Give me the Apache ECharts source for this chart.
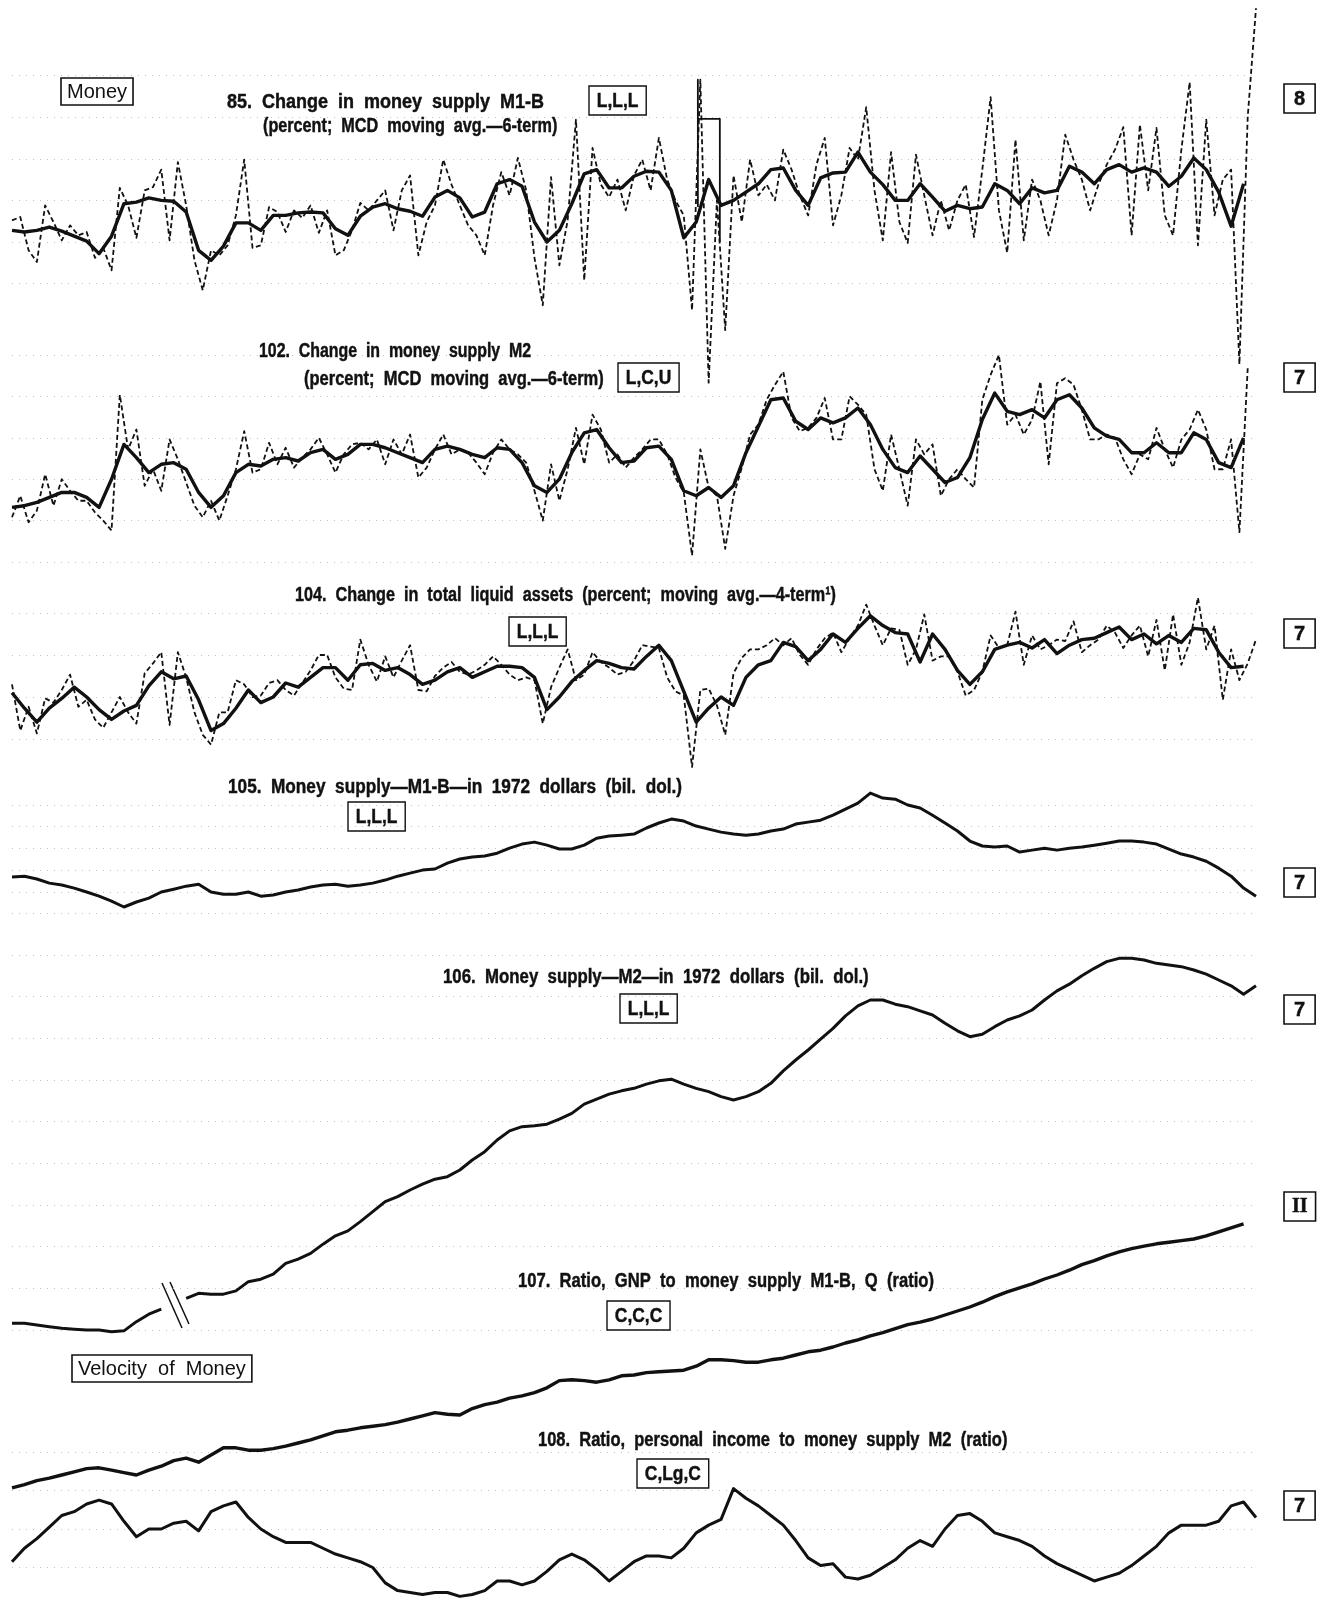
<!DOCTYPE html>
<html>
<head>
<meta charset="utf-8">
<script src="https://cdn.jsdelivr.net/npm/echarts@6/dist/echarts.min.js"></script>
<style>
  html, body { margin: 0; padding: 0; background: #fff; }
  #chart { width: 1338px; height: 1606px; }
</style>
</head>
<body>
<div id="chart"></div>
<script>
// ---- Money and velocity of money, monthly series (months counted from the start of the span) ----
const SPAN_MONTHS = 300;
const MA_STEP = 3;      // smoothed / level series sampled every 3 months
const RAW_STEP = 2;     // monthly-change series sampled every 2 months

// 85. Change in money supply M1-B (percent)
const m1bChangeMCD = [
  0.14, 0.12, 0.14, 0.18, 0.13, 0.07, 0.01, -0.14, 0.07, 0.46,
  0.48, 0.53, 0.50, 0.49, 0.36, -0.10, -0.22, -0.05, 0.23, 0.23,
  0.14, 0.32, 0.32, 0.35, 0.36, 0.35, 0.16, 0.08, 0.31, 0.42,
  0.46, 0.40, 0.37, 0.31, 0.54, 0.62, 0.53, 0.30, 0.36, 0.70,
  0.75, 0.67, 0.24, 0.00, 0.14, 0.46, 0.82, 0.87, 0.65, 0.65,
  0.79, 0.85, 0.84, 0.62, 0.05, 0.24, 0.75, 0.44, 0.50, 0.60,
  0.70, 0.87, 0.89, 0.62, 0.44, 0.77, 0.83, 0.84, 1.08, 0.84,
  0.69, 0.50, 0.50, 0.70, 0.54, 0.37, 0.44, 0.40, 0.42, 0.70,
  0.62, 0.46, 0.65, 0.59, 0.62, 0.91, 0.84, 0.70, 0.87, 0.93,
  0.84, 0.89, 0.84, 0.67, 0.79, 1.01, 0.87, 0.60, 0.19, 0.70
];
const m1bChangeMonthly = [
  0.26, 0.30, -0.10, -0.24, 0.44, 0.24, 0.02, 0.20, 0.08, 0.12,
  -0.19, -0.07, -0.34, 0.65, 0.44, 0.05, 0.62, 0.66, 0.87, 0.02,
  0.96, 0.44, -0.22, -0.58, -0.10, -0.16, -0.04, 0.32, 0.99, -0.07,
  -0.04, 0.42, 0.36, 0.12, 0.38, 0.29, 0.44, 0.11, 0.38, -0.16,
  -0.10, 0.14, 0.47, 0.38, 0.50, 0.62, 0.14, 0.62, 0.80, -0.16,
  0.24, 0.44, 0.99, 0.69, 0.44, 0.20, 0.08, -0.16, 0.44, 0.84,
  0.56, 1.01, 0.62, -0.19, -0.76, 0.78, -0.28, 0.26, 1.47, -0.46,
  1.13, 0.69, 0.54, 0.75, 0.38, 0.80, 0.99, 0.62, 1.25, 0.75,
  0.50, 0.32, -0.82, 1.95, -1.69, 0.50, -1.06, 0.80, 0.24, 0.99,
  0.56, 0.69, 0.50, 1.11, 0.87, 0.56, 0.32, 0.93, 1.25, 0.20,
  0.56, 1.13, 0.99, 1.62, 0.62, 0.02, 1.08, 0.24, -0.01, 1.05,
  0.56, 0.08, 0.50, 0.14, 0.50, 0.69, 0.06, 0.87, 1.74, 0.38,
  -0.13, 1.23, 0.02, 0.75, 0.50, 0.08, 0.50, 1.29, 0.99, 0.75,
  0.38, 0.69, 0.93, 1.11, 1.38, 0.08, 1.41, 0.62, 1.37, 0.32,
  0.08, 1.11, 1.92, -0.04, 1.47, 0.32, 0.75, 0.87, -1.47, 1.50,
  2.81
];
// series-break bracket on the M1-B curve
const m1bBreakMonths = [165.4, 165.4, 165.4, 170.7, 170.7];
const m1bBreakValues = [0.42, 1.95, 1.48, 1.48, 0.00];

// 102. Change in money supply M2 (percent)
const m2ChangeMCD = [
  0.33, 0.34, 0.36, 0.39, 0.42, 0.42, 0.39, 0.33, 0.50, 0.71,
  0.63, 0.54, 0.59, 0.60, 0.56, 0.42, 0.33, 0.40, 0.54, 0.59,
  0.58, 0.62, 0.63, 0.61, 0.66, 0.68, 0.62, 0.65, 0.71, 0.71,
  0.69, 0.66, 0.63, 0.60, 0.68, 0.70, 0.68, 0.65, 0.63, 0.69,
  0.68, 0.60, 0.46, 0.42, 0.50, 0.66, 0.78, 0.80, 0.69, 0.60,
  0.61, 0.69, 0.70, 0.62, 0.43, 0.40, 0.45, 0.39, 0.46, 0.66,
  0.82, 0.98, 0.99, 0.85, 0.80, 0.87, 0.84, 0.87, 0.93, 0.83,
  0.68, 0.57, 0.54, 0.64, 0.56, 0.48, 0.51, 0.63, 0.86, 1.02,
  0.91, 0.89, 0.92, 0.87, 0.98, 1.01, 0.93, 0.81, 0.76, 0.74,
  0.66, 0.66, 0.72, 0.66, 0.66, 0.78, 0.74, 0.60, 0.57, 0.75
];
const m2ChangeMonthly = [
  0.27, 0.40, 0.24, 0.31, 0.53, 0.34, 0.50, 0.43, 0.37, 0.37,
  0.30, 0.25, 0.19, 1.01, 0.68, 0.80, 0.46, 0.56, 0.43, 0.74,
  0.62, 0.48, 0.34, 0.27, 0.37, 0.25, 0.40, 0.56, 0.79, 0.54,
  0.56, 0.72, 0.59, 0.69, 0.57, 0.63, 0.68, 0.75, 0.65, 0.54,
  0.65, 0.71, 0.72, 0.68, 0.74, 0.59, 0.74, 0.65, 0.77, 0.51,
  0.57, 0.68, 0.77, 0.65, 0.68, 0.66, 0.60, 0.53, 0.66, 0.74,
  0.68, 0.65, 0.60, 0.43, 0.25, 0.59, 0.37, 0.56, 0.81, 0.59,
  0.89, 0.80, 0.60, 0.65, 0.57, 0.63, 0.68, 0.74, 0.74, 0.65,
  0.51, 0.42, 0.04, 0.68, 0.45, 0.40, 0.08, 0.40, 0.57, 0.77,
  0.83, 0.98, 1.07, 1.15, 0.87, 0.79, 0.81, 0.87, 0.99, 0.74,
  0.74, 1.00, 0.95, 0.89, 0.56, 0.43, 0.77, 0.56, 0.34, 0.74,
  0.65, 0.71, 0.40, 0.50, 0.56, 0.50, 0.45, 0.98, 1.13, 1.25,
  0.83, 0.89, 0.77, 0.86, 1.09, 0.59, 1.08, 1.11, 1.07, 0.92,
  0.74, 0.74, 0.77, 0.75, 0.62, 0.53, 0.65, 0.62, 0.81, 0.68,
  0.57, 0.74, 0.80, 0.92, 0.80, 0.56, 0.56, 0.74, 0.18, 1.17
];

// 104. Change in total liquid assets (percent)
const liquidChangeAvg = [
  0.63, 0.52, 0.42, 0.52, 0.59, 0.67, 0.60, 0.51, 0.44, 0.50,
  0.54, 0.68, 0.78, 0.73, 0.75, 0.58, 0.36, 0.41, 0.52, 0.65,
  0.56, 0.60, 0.70, 0.67, 0.74, 0.81, 0.81, 0.72, 0.83, 0.84,
  0.79, 0.81, 0.76, 0.69, 0.72, 0.78, 0.81, 0.74, 0.78, 0.82,
  0.82, 0.81, 0.74, 0.51, 0.60, 0.71, 0.79, 0.86, 0.84, 0.81,
  0.80, 0.89, 0.97, 0.86, 0.64, 0.42, 0.52, 0.60, 0.54, 0.74,
  0.83, 0.86, 0.99, 0.96, 0.86, 0.94, 1.05, 0.99, 1.09, 1.18,
  1.11, 1.06, 1.05, 0.85, 1.05, 0.94, 0.79, 0.69, 0.78, 0.94,
  0.97, 0.99, 0.95, 1.01, 0.91, 0.97, 1.01, 1.02, 1.06, 1.10,
  1.01, 1.05, 0.98, 1.04, 0.99, 1.09, 1.08, 0.92, 0.81, 0.82
];
const liquidChangeMonthly = [
  0.69, 0.36, 0.53, 0.34, 0.59, 0.56, 0.65, 0.76, 0.53, 0.58,
  0.44, 0.38, 0.49, 0.60, 0.49, 0.41, 0.77, 0.84, 0.92, 0.40,
  0.92, 0.74, 0.49, 0.33, 0.26, 0.49, 0.49, 0.72, 0.69, 0.60,
  0.61, 0.70, 0.72, 0.65, 0.61, 0.70, 0.79, 0.90, 0.90, 0.74,
  0.66, 0.65, 1.01, 0.83, 0.71, 0.89, 0.74, 0.86, 0.97, 0.65,
  0.64, 0.75, 0.81, 0.85, 0.78, 0.76, 0.79, 0.83, 0.89, 0.83,
  0.76, 0.72, 0.74, 0.72, 0.41, 0.67, 0.81, 0.94, 0.72, 0.76,
  0.92, 0.85, 0.81, 0.76, 0.78, 0.86, 0.97, 0.96, 0.95, 0.74,
  0.64, 0.61, 0.10, 0.65, 0.66, 0.54, 0.33, 0.77, 0.88, 0.94,
  0.94, 0.97, 1.02, 0.97, 1.02, 0.90, 0.83, 0.94, 1.02, 1.06,
  0.92, 1.02, 1.11, 1.26, 1.11, 0.97, 1.09, 1.08, 0.83, 0.94,
  1.19, 0.86, 0.89, 0.89, 0.78, 0.61, 0.65, 0.78, 1.04, 0.95,
  0.97, 1.21, 0.83, 1.04, 0.94, 0.97, 1.01, 1.00, 1.14, 0.92,
  0.97, 1.01, 1.11, 1.06, 0.95, 1.04, 1.11, 0.89, 1.15, 0.79,
  1.19, 0.83, 0.99, 1.31, 0.94, 1.11, 0.58, 0.94, 0.72, 0.84,
  1.01
];

// 105. Money supply M1-B in 1972 dollars (bil. dol.)
const m1bReal = [
  216.8, 217.2, 215.9, 214.0, 213.1, 211.7, 209.9, 208.0, 205.7, 203.0,
  205.3, 207.1, 209.9, 211.2, 212.6, 213.5, 209.9, 208.9, 208.9, 209.9,
  208.0, 208.5, 209.9, 210.8, 212.2, 213.1, 213.5, 212.6, 213.1, 214.0,
  215.4, 217.2, 218.6, 220.0, 220.5, 223.2, 225.1, 226.0, 226.5, 227.8,
  230.1, 232.0, 232.9, 231.5, 229.7, 229.7, 231.5, 234.7, 235.7, 236.1,
  236.6, 239.4, 241.7, 243.5, 242.6, 240.3, 238.9, 237.5, 236.6, 236.1,
  236.6, 238.0, 238.9, 241.2, 242.1, 243.0, 245.3, 248.1, 250.9, 255.5,
  253.2, 252.7, 250.0, 248.6, 245.3, 241.7, 238.0, 233.4, 231.1, 230.6,
  231.1, 228.3, 229.2, 230.1, 229.2, 230.1, 230.6, 231.5, 232.4, 233.4,
  233.4, 232.9, 232.0, 229.7, 227.4, 226.0, 224.1, 220.9, 217.2, 211.7,
  208.0
];

// 106. Money supply M2 in 1972 dollars (bil. dol.); null marks the scale break
const m2Real = [
  308, 308, 306, 304, 302, 301, 300, 300, 298, 299,
  310, 319, 325, null, 338, 344, 343, 343, 347, 358,
  361, 367, 380, 385, 392, 403, 413, 419, 430, 442,
  454, 460, 468, 475, 481, 484, 492, 504, 514, 528,
  539, 544, 545, 547, 553, 560, 571, 577, 583, 587,
  590, 595, 599, 601, 595, 590, 586, 580, 576, 580,
  586, 596, 611, 624, 636, 649, 662, 677, 689, 696,
  696, 691, 688, 683, 678, 668, 659, 652, 655, 664,
  672, 677, 684, 696, 707, 715, 725, 734, 742, 746,
  746, 744, 740, 738, 736, 732, 727, 720, 713, 703,
  713
];

// 107. Ratio, GNP to money supply M1-B
const gnpToM1b = [
  2.99, 3.03, 3.08, 3.11, 3.15, 3.19, 3.23, 3.24, 3.21, 3.18,
  3.15, 3.21, 3.26, 3.33, 3.36, 3.31, 3.40, 3.49, 3.49, 3.46,
  3.46, 3.48, 3.51, 3.55, 3.59, 3.64, 3.69, 3.71, 3.74, 3.76,
  3.78, 3.81, 3.85, 3.89, 3.93, 3.91, 3.90, 3.98, 4.03, 4.06,
  4.11, 4.14, 4.18, 4.24, 4.33, 4.34, 4.33, 4.31, 4.34, 4.39,
  4.40, 4.43, 4.44, 4.45, 4.46, 4.51, 4.59, 4.59, 4.58, 4.56,
  4.56, 4.59, 4.61, 4.65, 4.69, 4.71, 4.75, 4.80, 4.84, 4.89,
  4.93, 4.98, 5.03, 5.06, 5.10, 5.15, 5.20, 5.25, 5.31, 5.38,
  5.44, 5.49, 5.54, 5.60, 5.65, 5.71, 5.78, 5.83, 5.89, 5.94,
  5.98, 6.01, 6.04, 6.06, 6.08, 6.10, 6.14, 6.19, 6.24, 6.29
];

// 108. Ratio, personal income to money supply M2
const incomeToM2 = [
  1.383, 1.390, 1.395, 1.401, 1.407, 1.409, 1.413, 1.415, 1.413, 1.404,
  1.396, 1.400, 1.400, 1.403, 1.404, 1.399, 1.409, 1.412, 1.414, 1.406,
  1.400, 1.396, 1.393, 1.393, 1.393, 1.390, 1.387, 1.385, 1.383, 1.380,
  1.372, 1.368, 1.367, 1.366, 1.367, 1.367, 1.365, 1.366, 1.368, 1.373,
  1.373, 1.371, 1.373, 1.378, 1.384, 1.387, 1.384, 1.379, 1.373, 1.378,
  1.383, 1.386, 1.386, 1.385, 1.390, 1.398, 1.402, 1.405, 1.421, 1.416,
  1.412, 1.407, 1.402, 1.394, 1.385, 1.381, 1.382, 1.375, 1.374, 1.376,
  1.380, 1.384, 1.390, 1.394, 1.391, 1.400, 1.407, 1.408, 1.404, 1.398,
  1.396, 1.394, 1.391, 1.386, 1.382, 1.379, 1.376, 1.373, 1.375, 1.377,
  1.381, 1.386, 1.391, 1.398, 1.402, 1.402, 1.402, 1.404, 1.412, 1.414,
  1.406
];

// ---- helpers ----
function seq(values, step) {
  return values.map((v, i) => [i * step, v == null ? '-' : v]);
}
function zip(xs, ys) {
  return xs.map((x, i) => [x, ys[i]]);
}

const PLOT_LEFT = 12;
const PLOT_RIGHT = 82;

// one grid per panel
const panels = [
  { top: 75.6, height: 208, min: -0.5, max: 2.0, interval: 0.5, grid: true },   // 85
  { top: 355, height: 207, min: 0, max: 1.25, interval: 0.25, grid: true },     // 102
  { top: 613, height: 126, min: 0.3, max: 1.2, interval: 0.3, grid: true },     // 104
  { top: 805, height: 108.5, min: 200, max: 250, interval: 10, grid: true },    // 105
  { top: 955, height: 375, min: 300, max: 750, interval: 50, grid: true },      // 106
  { top: 1207, height: 280, min: 3, max: 6.5, interval: 0.5, grid: false },     // 107
  { top: 1452, height: 160, min: 1.36, max: 1.44, interval: 0.02, grid: true }  // 108
];

const gridLine = { color: '#c2c2c2', width: 1, type: [1, 6] };

const grids = panels.map(p => ({ left: PLOT_LEFT, right: PLOT_RIGHT, top: p.top, height: p.height, containLabel: false }));
const xAxes = panels.map((p, i) => ({
  type: 'value', gridIndex: i, min: 0, max: SPAN_MONTHS, show: false
}));
const yAxes = panels.map((p, i) => ({
  type: 'value', gridIndex: i, min: p.min, max: p.max, interval: p.interval,
  axisLine: { show: false }, axisTick: { show: false }, axisLabel: { show: false },
  splitLine: { show: p.grid, lineStyle: gridLine }
}));

function line(idx, data, width, dashed) {
  return {
    type: 'line', xAxisIndex: idx, yAxisIndex: idx, data: data,
    symbol: 'none', showSymbol: false, clip: false, silent: true,
    connectNulls: false, smooth: false,
    lineStyle: { color: '#111', width: width, type: dashed ? [5, 3] : 'solid', join: 'round', cap: 'butt' },
    z: dashed ? 2 : 3
  };
}

const series = [
  line(0, seq(m1bChangeMonthly, RAW_STEP), 1.8, true),
  line(0, seq(m1bChangeMCD, MA_STEP), 3.4, false),
  line(0, zip(m1bBreakMonths, m1bBreakValues), 1.8, false),
  line(1, seq(m2ChangeMonthly, RAW_STEP), 1.8, true),
  line(1, seq(m2ChangeMCD, MA_STEP), 3.4, false),
  line(2, seq(liquidChangeMonthly, RAW_STEP), 1.8, true),
  line(2, seq(liquidChangeAvg, MA_STEP), 3.4, false),
  line(3, seq(m1bReal, MA_STEP), 3.0, false),
  line(4, seq(m2Real, MA_STEP), 3.0, false),
  line(5, seq(gnpToM1b, MA_STEP), 3.4, false),
  line(6, seq(incomeToM2, MA_STEP), 3.0, false)
];

// ---- text: condensed heavy captions, boxed keys ----
const SANS = '"Liberation Sans", Arial, "DejaVu Sans", sans-serif';
const SERIF = '"Liberation Serif", "DejaVu Serif", serif';

function label(text, x, y, opts) {
  opts = opts || {};
  const boxed = !!opts.boxed;
  const size = opts.size || 20;
  const weight = opts.weight || 'bold';
  const heavy = weight === 'bold';
  return {
    type: 'text', x: x, y: y, z: 50, silent: true,
    scaleX: opts.scaleX == null ? 0.87 : opts.scaleX,
    style: {
      text: text,
      font: weight + ' ' + size + 'px ' + (opts.family || SANS),
      fill: '#111',
      stroke: heavy ? '#111' : null,
      lineWidth: heavy ? 0.45 : 0,
      align: 'left',
      verticalAlign: 'top',
      padding: boxed ? (opts.padding || [5, 9, 4, 9]) : 0,
      borderColor: boxed ? '#111' : null,
      borderWidth: boxed ? 1.6 : 0
    }
  };
}
const keyBox = { boxed: true, scaleX: 1, padding: [5, 10, 4, 10] };

const labels = [
  label('Money', 61, 78, { boxed: true, weight: 'normal', scaleX: 1, padding: [4, 6, 3, 6] }),
  label('85.  Change  in  money  supply  M1-B', 227, 92, { scaleX: 0.9 }),
  label('(percent;  MCD  moving  avg.—6-term)', 263, 116, { scaleX: 0.81 }),
  label('L,L,L', 589, 86, { boxed: true }),

  label('102.  Change  in  money  supply  M2', 259, 341, { scaleX: 0.795 }),
  label('(percent;  MCD  moving  avg.—6-term)', 304, 369, { scaleX: 0.825 }),
  label('L,C,U', 618, 363, { boxed: true }),

  label('104.  Change  in  total  liquid  assets  (percent;  moving  avg.—4-term¹)', 295, 585, { scaleX: 0.81 }),
  label('L,L,L', 509, 617, { boxed: true }),

  label('105.  Money  supply—M1-B—in  1972  dollars  (bil.  dol.)', 228, 777, { scaleX: 0.86 }),
  label('L,L,L', 348, 802, { boxed: true }),

  label('106.  Money  supply—M2—in  1972  dollars  (bil.  dol.)', 443, 967, { scaleX: 0.84 }),
  label('L,L,L', 620, 994, { boxed: true }),

  label('107.  Ratio,  GNP  to  money  supply  M1-B,  Q  (ratio)', 518, 1271, { scaleX: 0.83 }),
  label('C,C,C', 607, 1301, { boxed: true }),
  label('Velocity  of  Money', 72, 1355, { boxed: true, weight: 'normal', scaleX: 1, padding: [4, 6, 3, 6] }),

  label('108.  Ratio,  personal  income  to  money  supply  M2  (ratio)', 538, 1430, { scaleX: 0.825 }),
  label('C,Lg,C', 637, 1459, { boxed: true }),

  // scale keys at the right edge
  label('8', 1284, 84, keyBox),
  label('7', 1284, 363, keyBox),
  label('7', 1284, 619, keyBox),
  label('7', 1284, 868, keyBox),
  label('7', 1284, 995, keyBox),
  label('II', 1284, 1192, { boxed: true, scaleX: 1, padding: [5, 8, 4, 8], family: SERIF }),
  label('7', 1284, 1491, keyBox)
];

// scale-break symbol on the M2 (1972 dollars) curve
const breakMark = [
  { type: 'line', silent: true, shape: { x1: 162, y1: 1283, x2: 182, y2: 1328 }, style: { stroke: '#111', lineWidth: 1.5 } },
  { type: 'line', silent: true, shape: { x1: 170, y1: 1282, x2: 189, y2: 1324 }, style: { stroke: '#111', lineWidth: 1.5 } }
];

const chart = echarts.init(document.getElementById('chart'), null, { renderer: 'canvas' });
chart.setOption({
  animation: false,
  backgroundColor: '#ffffff',
  grid: grids,
  xAxis: xAxes,
  yAxis: yAxes,
  series: series,
  graphic: breakMark.concat(labels)
});
</script>
</body>
</html>
